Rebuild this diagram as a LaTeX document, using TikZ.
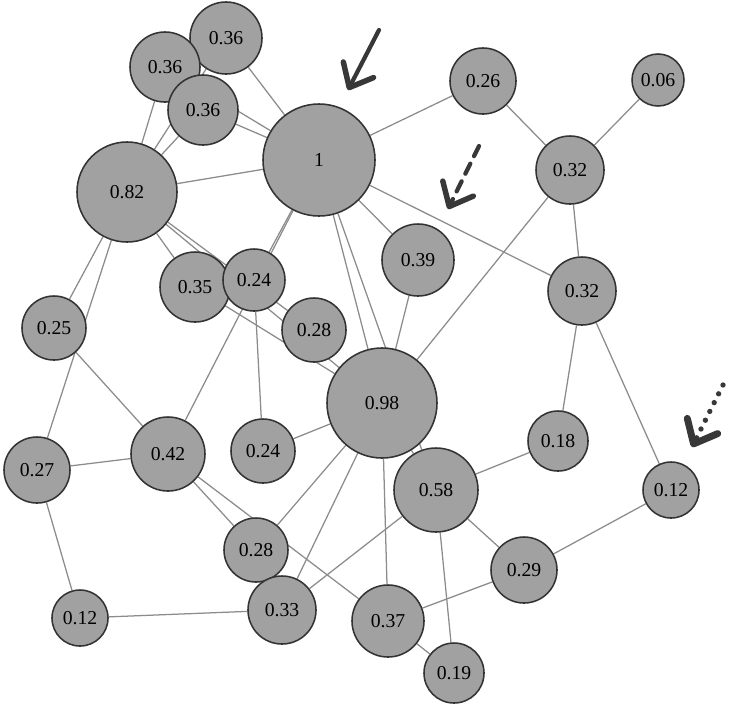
\documentclass[tikz,border=0pt]{standalone}
\usepackage{fontspec}
\setmainfont{Liberation Serif}
\usepackage{tikz}
\usetikzlibrary{arrows.meta,backgrounds}

\begin{document}
\begin{tikzpicture}[x=0.025cm,y=-0.025cm,
  font=\fontsize{14}{16}\selectfont,
  vtx/.style={circle,draw=black!80,line width=1.1pt,fill=black!37,
              inner sep=0pt,minimum size=#1},
  ed/.style={black!45,line width=0.9pt},
  pointer/.style={black!78,line width=3pt,line cap=round,
               -{Straight Barb[round,length=5mm,width=8.5mm,line width=0pt 1.3]}}]
\useasboundingbox (0,0) rectangle (729,706);
% ---------------- vertices
\node[vtx=1.8cm]  (t36) at (226,38)  {0.36};
\node[vtx=1.75cm] (l36) at (165,67)  {0.36};
\node[vtx=1.75cm] (m36) at (203,110) {0.36};
\node[vtx=2.5cm]  (n82) at (127,192) {0.82};
\node[vtx=2.8cm]  (n1)  at (319,160) {1};
\node[vtx=1.75cm] (n35) at (195,287) {0.35};
\node[vtx=1.55cm] (n24a) at (254,280) {0.24};
\node[vtx=1.6cm]  (n28a) at (314,330) {0.28};
\node[vtx=1.8cm]  (n39) at (418,260) {0.39};
\node[vtx=2.75cm] (n98) at (382,403) {0.98};
\node[vtx=1.65cm] (n26) at (483,81)  {0.26};
\node[vtx=1.3cm]  (n06) at (658,80)  {0.06};
\node[vtx=1.7cm]  (n32a) at (570,170) {0.32};
\node[vtx=1.7cm]  (n32b) at (582,291) {0.32};
\node[vtx=1.5cm]  (n18) at (558,441) {0.18};
\node[vtx=1.4cm]  (n12r) at (671,490) {0.12};
\node[vtx=2.1cm]  (n58) at (436,490) {0.58};
\node[vtx=1.65cm] (n29) at (524,570) {0.29};
\node[vtx=1.8cm]  (n37) at (388,621) {0.37};
\node[vtx=1.5cm]  (n19) at (454,673) {0.19};
\node[vtx=1.6cm]  (n25) at (54,328)  {0.25};
\node[vtx=1.65cm] (n27) at (37,470)  {0.27};
\node[vtx=1.85cm] (n42) at (168,454) {0.42};
\node[vtx=1.6cm]  (n24b) at (263,451) {0.24};
\node[vtx=1.6cm]  (n28b) at (256,550) {0.28};
\node[vtx=1.7cm]  (n33) at (282,610) {0.33};
\node[vtx=1.4cm]  (n12l) at (80,618) {0.12};
% ---------------- edges
\begin{scope}[on background layer]
\foreach \x/\y in {t36/n1,l36/n1,m36/n1,l36/n82,t36/n82,m36/n82,n82/n1,
    n82/n35,n82/n98,n82/n28a,n82/n25,n82/n27,n35/n98,n24a/n1,n42/n1,
    n24a/n24b,n42/n25,n42/n27,n42/n28b,n42/n37,n27/n12l,n12l/n33,
    n24b/n98,n1/n98,n1/n58,n1/n39,n1/n26,n1/n32b,n39/n98,n26/n32a,
    n06/n32a,n32a/n32b,n32a/n98,n32b/n18,n32b/n12r,n18/n58,n12r/n29,
    n98/n58,n98/n28b,n98/n33,n98/n37,n58/n33,n58/n29,n58/n19,n29/n37,
    n37/n19}
  \draw[ed] (\x) -- (\y);
\end{scope}
% ---------------- pointers
\coordinate (s1) at (379,30);  \coordinate (e1) at (348,90);
\coordinate (s2) at (479,146); \coordinate (e2) at (448,209);
\coordinate (s3) at (723,385); \coordinate (e3) at (692,447);
\draw[pointer] (s1) -- (e1);
\draw[pointer,dash pattern=on 8pt off 6pt] (s2) -- (e2);
\draw[pointer,line width=3.8pt,dash pattern=on 0pt off 7pt] (s3) -- (e3);
\end{tikzpicture}
\end{document}
